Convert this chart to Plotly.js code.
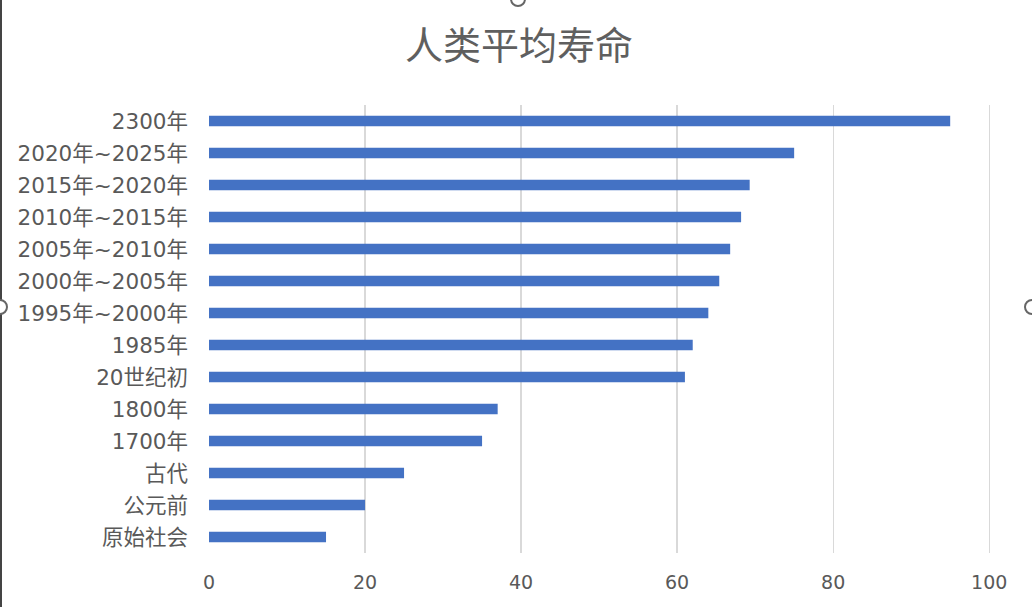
<!DOCTYPE html>
<html>
<head>
<meta charset="utf-8">
<script src="https://cdn.plot.ly/plotly-3.0.1.min.js"></script>
<style>
	html, body { margin: 0; padding: 0; background: #fff; }
	#plot { width: 1032px; height: 607px; }
</style>
</head>
<body>
<div id="plot"></div>
<script>
const categories = [
	"原始社会", "公元前", "古代", "1700年", "1800年", "20世纪初", "1985年",
	"1995年~2000年", "2000年~2005年", "2005年~2010年", "2010年~2015年",
	"2015年~2020年", "2020年~2025年", "2300年",
];
const lifeExpectancy = [15, 20, 25, 35, 37, 61, 62, 64, 65.4, 66.8, 68.2, 69.3, 75, 95];
const xTicks = [0, 20, 40, 60, 80, 100];

const FONT = "DejaVu Sans, 'Noto Sans CJK SC', sans-serif";
const TEXT_COLOR = "#595959";

// plot area in pixels, used to place the frame decorations
const L = 209, R = 997, T = 105, B = 553;
const px = x => (x - L) / (R - L);
const py = y => (B - y) / (B - T);

function handle(cx, cy, r) {
	return {
		type: "circle", xref: "paper", yref: "paper",
		x0: px(cx - r), x1: px(cx + r), y0: py(cy + r), y1: py(cy - r),
		line: { color: "#666", width: 2 }, fillcolor: "#fff",
	};
}

const data = [{
	type: "bar",
	orientation: "h",
	x: lifeExpectancy,
	y: categories,
	marker: { color: "#4472C4" },
	hoverinfo: "none",
}];

const layout = {
	width: 1032,
	height: 607,
	margin: { l: L, r: 1032 - R, t: T, b: 607 - B },
	paper_bgcolor: "#fff",
	plot_bgcolor: "#fff",
	showlegend: false,
	bargap: 0.67,
	font: { family: FONT, color: TEXT_COLOR },
	title: {
		text: "人类平均寿命",
		font: { family: "'Noto Sans CJK SC', sans-serif", size: 38, color: "#5f5f5f" },
		x: 0.503, xref: "container", xanchor: "center",
		y: 0.925, yanchor: "middle",
	},
	xaxis: {
		range: [0, 101],
		tickvals: xTicks,
		ticktext: xTicks.map(String),
		showgrid: true,
		gridcolor: "#d9d9d9",
		gridwidth: 1.3,
		zeroline: false,
		showline: false,
		ticks: "",
		ticklabelstandoff: 16,
		tickfont: { size: 19, color: TEXT_COLOR },
		fixedrange: true,
	},
	yaxis: {
		type: "category",
		categoryorder: "array",
		categoryarray: categories,
		showgrid: false,
		zeroline: false,
		showline: false,
		ticks: "",
		ticklabelstandoff: 20,
		tickfont: { size: 21.5, color: TEXT_COLOR },
		fixedrange: true,
	},
	shapes: [
		{
			type: "line", xref: "paper", yref: "paper",
			x0: px(1), x1: px(1), y0: py(607), y1: py(0),
			line: { color: "#444", width: 2 },
		},
		handle(518, -1, 7),
		handle(0, 307, 7),
		handle(1032, 307, 7),
	],
};

Plotly.newPlot("plot", data, layout, { displayModeBar: false, staticPlot: true });
</script>
</body>
</html>
